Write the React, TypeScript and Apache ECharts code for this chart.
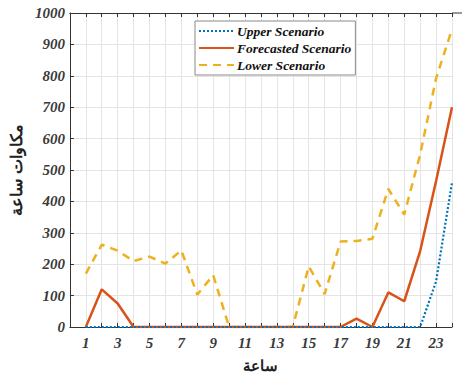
import React, { useEffect, useRef } from "react";
import * as echarts from "echarts";

const hours = Array.from({ length: 24 }, (_, i) => i + 1);
const upperScenario = [0, 0, 0, 0, 0, 0, 0, 0, 0, 0, 0, 0, 0, 0, 0, 0, 0, 0, 0, 0, 0, 0, 145, 460];
const forecastedScenario = [0, 120, 75, 0, 0, 0, 0, 0, 0, 0, 0, 0, 0, 0, 0, 0, 0, 27, 0, 110, 82, 242, 465, 700];
const lowerScenario = [170, 262, 243, 210, 224, 202, 244, 103, 165, 0, 0, 0, 0, 0, 193, 105, 272, 274, 281, 440, 358, 550, 792, 948];
const seriesNames = ["Upper Scenario", "Forecasted Scenario", "Lower Scenario"];
const xAxisName = "ساعة";
const yAxisName = "مكاوات ساعة";

const toPairs = (vals: number[]) => vals.map((v, i) => [hours[i], v]);
const serif = "'Liberation Serif', 'DejaVu Serif', 'Times New Roman', serif";

export default function App() {
  const ref = useRef<HTMLDivElement>(null);
  useEffect(() => {
    if (!ref.current) return;
    const chart = echarts.init(ref.current, undefined, { renderer: "svg" });
    const tickFont = {
      fontFamily: serif,
      fontWeight: "bold" as const,
      fontStyle: "italic" as const,
      fontSize: 15,
      color: "#3a3a3a",
    };
    chart.setOption({
      animation: false,
      backgroundColor: "#ffffff",
      grid: { left: 65, right: 10, top: 13, bottom: 49, containLabel: false },
      legend: {
        orient: "vertical",
        left: 195,
        top: 21,
        itemWidth: 35,
        itemHeight: 10,
        itemGap: 3,
        padding: [3, 4, 3, 3],
        borderColor: "#8a8a8a",
        borderWidth: 1,
        backgroundColor: "#ffffff",
        itemStyle: { opacity: 0 },
        textStyle: {
          fontFamily: serif,
          fontWeight: "bold",
          fontStyle: "italic",
          fontSize: 13.5,
          color: "#111",
          padding: [0, 0, 0, -2],
        },
        data: seriesNames,
      },
      xAxis: [
        {
          type: "value",
          min: 0,
          max: 24,
          interval: 1,
          name: xAxisName,
          nameLocation: "middle",
          nameGap: 30,
          nameTextStyle: { fontFamily: "Noto Sans", fontWeight: "bold", fontSize: 15, color: "#222" },
          axisLine: { lineStyle: { color: "#333", width: 1 } },
          axisTick: { inside: true, length: 4, lineStyle: { color: "#333" } },
          axisLabel: {
            ...tickFont,
            margin: 8,
            formatter: (v: number) => (v % 2 === 1 ? String(v) : ""),
          },
          splitLine: { show: true, lineStyle: { color: "#e4e4e4", width: 1 } },
        },
        {
          type: "value",
          position: "top",
          min: 0,
          max: 24,
          interval: 1,
          axisLine: { show: true, onZero: false, lineStyle: { color: "#333", width: 1 } },
          axisTick: { inside: true, length: 4, lineStyle: { color: "#333" } },
          axisLabel: { show: false },
          splitLine: { show: false },
        },
      ],
      yAxis: {
        type: "value",
        min: 0,
        max: 1000,
        interval: 100,
        name: yAxisName,
        nameLocation: "middle",
        nameGap: 42,
        nameRotate: 90,
        nameTextStyle: { fontFamily: "Noto Sans", fontWeight: "bold", fontSize: 16, color: "#222" },
        axisLine: { show: true, lineStyle: { color: "#333", width: 1 } },
        axisTick: { show: true, inside: true, length: 4, lineStyle: { color: "#333" } },
        axisLabel: { ...tickFont, margin: 5, formatter: (v: number) => String(v) },
        splitLine: { show: true, lineStyle: { color: "#e4e4e4", width: 1 } },
      },
      graphic: [
        {
          type: "line",
          shape: { x1: 452, y1: 13, x2: 462, y2: 13 },
          style: { stroke: "#333", lineWidth: 1 },
        },
      ],
      series: [
        {
          name: seriesNames[0],
          type: "line",
          data: toPairs(upperScenario),
          showSymbol: false,
          symbol: "none",
          z: 4,
          lineStyle: { color: "#0072BD", width: 2.2, type: [2, 2] },
          itemStyle: { color: "#0072BD" },
        },
        {
          name: seriesNames[1],
          type: "line",
          data: toPairs(forecastedScenario),
          showSymbol: false,
          symbol: "none",
          z: 3,
          lineStyle: { color: "#D95319", width: 2.5, type: "solid" },
          itemStyle: { color: "#D95319" },
        },
        {
          name: seriesNames[2],
          type: "line",
          data: toPairs(lowerScenario),
          showSymbol: false,
          symbol: "none",
          z: 2,
          lineStyle: { color: "#EDB120", width: 2.5, type: [8, 6] },
          itemStyle: { color: "#EDB120" },
        },
      ],
    });
    return () => chart.dispose();
  }, []);
  return (
    <div
      ref={ref}
      style={{ position: "fixed", left: 0, top: 0, width: 462, height: 377 }}
    />
  );
}
